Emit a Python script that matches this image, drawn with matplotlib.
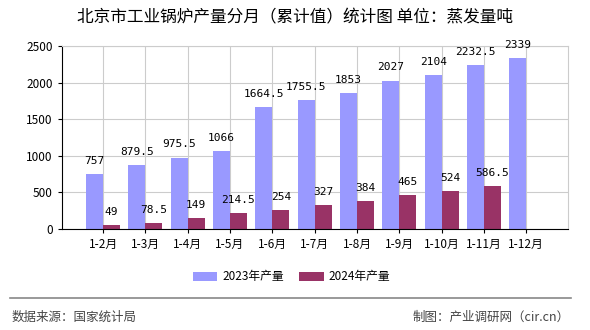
import matplotlib
matplotlib.use("Agg")
import matplotlib.pyplot as plt
import numpy as np

plt.rcParams['font.family'] = ['Noto Sans CJK SC', 'DejaVu Sans']

months = ["1-2月", "1-3月", "1-4月", "1-5月", "1-6月", "1-7月", "1-8月",
          "1-9月", "1-10月", "1-11月", "1-12月"]
y2023 = [757, 879.5, 975.5, 1066, 1664.5, 1755.5, 1853, 2027, 2104, 2232.5, 2339]
y2024 = [49, 78.5, 149, 214.5, 254, 327, 384, 465, 524, 586.5, None]

c2023 = "#9999ff"
c2024 = "#993366"

fig = plt.figure(figsize=(5.9, 3.3), dpi=100)
ax = fig.add_axes([0.105, 0.306, 0.858, 0.555])

x = np.arange(len(months))
w = 0.4
ax.bar(x - w / 2, y2023, w, color=c2023, label="2023年产量", zorder=2)
x24 = [i for i, v in zip(x, y2024) if v is not None]
v24 = [v for v in y2024 if v is not None]
ax.bar(np.array(x24) + w / 2, v24, w, color=c2024, label="2024年产量", zorder=2)

def fmt(v):
    return str(int(v)) if v == int(v) else str(v)

for i, v in zip(x, y2023):
    ax.text(i - w / 2, v + 110, fmt(v), ha="center", va="bottom",
            fontsize=8, family="DejaVu Sans Mono")
for i, v in zip(x24, v24):
    ax.text(i + w / 2, v + 110, fmt(v), ha="center", va="bottom",
            fontsize=8, family="DejaVu Sans Mono")

ax.set_xlim(-0.97, 10.99)
ax.set_ylim(0, 2500)
ax.set_xticks(x)
ax.set_xticklabels(months, fontsize=8.5)
ax.set_yticks(np.arange(0, 2501, 500))
ax.tick_params(axis="y", labelsize=8.5, length=3)
ax.tick_params(axis="x", length=3)
ax.grid(True, color="#cccccc", linewidth=0.8, zorder=0)
for s in ["top", "right"]:
    ax.spines[s].set_color("#cccccc")
ax.spines["left"].set_color("black")
ax.spines["bottom"].set_color("black")

fig.text(0.5, 0.947, "北京市工业锅炉产量分月（累计值）统计图 单位：蒸发量吨",
         ha="center", va="center", fontsize=12)

fig.legend(loc="center", bbox_to_anchor=(0.494, 0.161), ncol=2, frameon=False,
           fontsize=8.5, handlelength=2.1, handleheight=0.8, handletextpad=0.4,
           columnspacing=1.3)

fig.add_artist(plt.Line2D([0.017, 0.968], [0.097, 0.097], color="#888888",
                          linewidth=1.2, transform=fig.transFigure))
fig.text(0.02, 0.039, "数据来源：国家统计局", ha="left", va="center", fontsize=9, color="#444444")
fig.text(0.966, 0.039, "制图：产业调研网（cir.cn）", ha="right", va="center", fontsize=9, color="#444444")

fig.savefig("out.png", dpi=100)
